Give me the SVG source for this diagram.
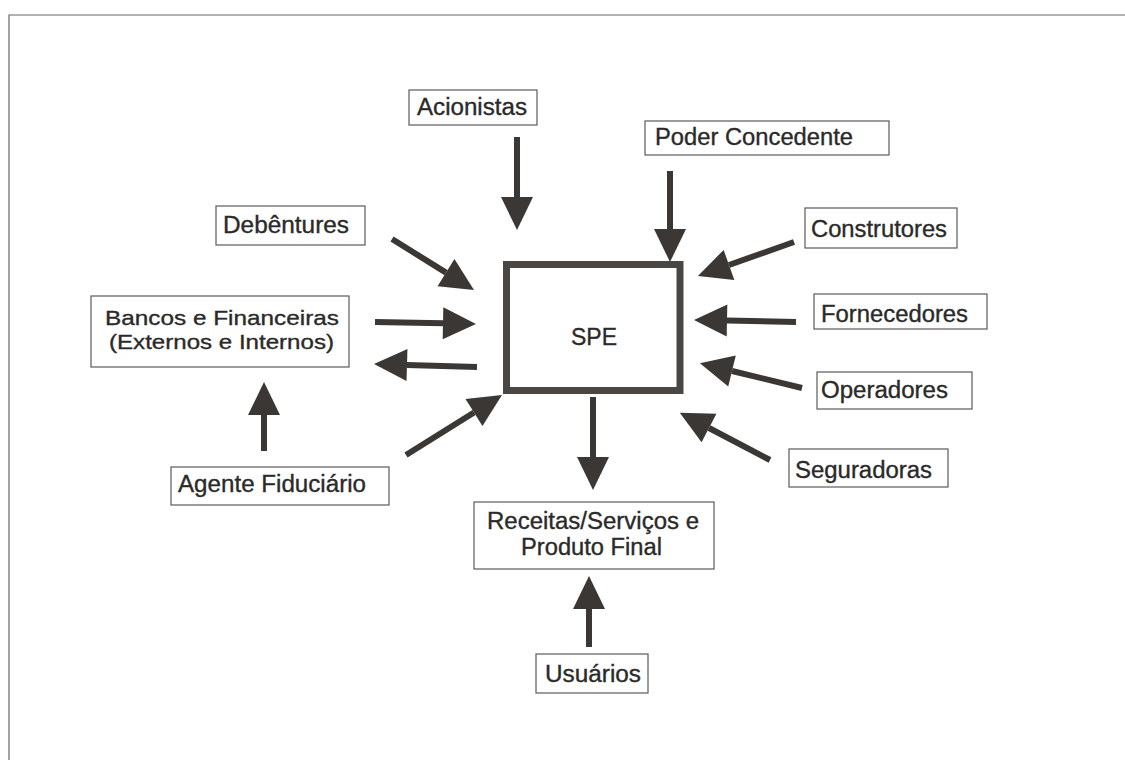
<svg xmlns="http://www.w3.org/2000/svg" width="1125" height="760" viewBox="0 0 1125 760">
<style>
.box{fill:#fff;stroke:#5a5a5a;stroke-width:1.2}
.t{font-family:"Liberation Sans",Arial,sans-serif;font-size:23px;fill:#2b2a29;stroke:#2b2a29;stroke-width:0.35}
.s{font-size:21px}
.c{stroke:#3b3734;stroke-width:6;fill:none;marker-end:url(#ah)}
</style>
<defs>
<marker id="ah" markerUnits="userSpaceOnUse" markerWidth="34" markerHeight="32" refX="0" refY="16" orient="auto" overflow="visible">
<path d="M0,0 L33,16 L0,32 z" fill="#3b3734"/>
</marker>
</defs>
<rect width="1125" height="760" fill="#fff"/>
<path d="M9,760 V15 H1125" fill="none" stroke="#666" stroke-width="1.2"/>

<g id="spe">
<rect x="506.5" y="264.5" width="173.5" height="126" fill="#fff" stroke="#4a4644" stroke-width="7"/>
<text class="t" x="571" y="345" textLength="46" lengthAdjust="spacingAndGlyphs">SPE</text>
</g>
<g id="acionistas">
<rect class="box" x="409" y="90" width="128" height="35"/>
<text class="t" x="417" y="115" textLength="110" lengthAdjust="spacingAndGlyphs">Acionistas</text>
</g>
<g id="poder">
<rect class="box" x="645" y="121" width="244" height="34"/>
<text class="t" x="655" y="145" textLength="198" lengthAdjust="spacingAndGlyphs">Poder Concedente</text>
</g>
<g id="debentures">
<rect class="box" x="216" y="206" width="149" height="39"/>
<text class="t" x="223" y="233" textLength="126" lengthAdjust="spacingAndGlyphs">Debêntures</text>
</g>
<g id="construtores">
<rect class="box" x="805" y="208" width="152" height="40"/>
<text class="t" x="811" y="237" textLength="136" lengthAdjust="spacingAndGlyphs">Construtores</text>
</g>
<g id="bancos">
<rect class="box" x="91" y="296" width="258" height="71"/>
<text class="t s" x="105" y="325" textLength="234" lengthAdjust="spacingAndGlyphs">Bancos e Financeiras</text>
<text class="t s" x="109" y="349" textLength="225" lengthAdjust="spacingAndGlyphs">(Externos e Internos)</text>
</g>
<g id="fornecedores">
<rect class="box" x="814" y="294" width="173" height="35"/>
<text class="t" x="821" y="322" textLength="147" lengthAdjust="spacingAndGlyphs">Fornecedores</text>
</g>
<g id="operadores">
<rect class="box" x="817" y="372" width="155" height="37"/>
<text class="t" x="821" y="398" textLength="127" lengthAdjust="spacingAndGlyphs">Operadores</text>
</g>
<g id="seguradoras">
<rect class="box" x="789" y="449" width="159" height="38"/>
<text class="t" x="795" y="478" textLength="137" lengthAdjust="spacingAndGlyphs">Seguradoras</text>
</g>
<g id="agente">
<rect class="box" x="171" y="467" width="218" height="38"/>
<text class="t" x="178" y="492" textLength="188" lengthAdjust="spacingAndGlyphs">Agente Fiduciário</text>
</g>
<g id="receitas">
<rect class="box" x="474" y="502" width="240" height="67"/>
<text class="t" x="487" y="529" textLength="212" lengthAdjust="spacingAndGlyphs">Receitas/Serviços e</text>
<text class="t" x="521" y="555" textLength="141" lengthAdjust="spacingAndGlyphs">Produto Final</text>
</g>
<g id="usuarios">
<rect class="box" x="536" y="654" width="112" height="39"/>
<text class="t" x="545" y="682" textLength="96" lengthAdjust="spacingAndGlyphs">Usuários</text>
</g>

<g id="connectors">
<line class="c" x1="517" y1="137" x2="517" y2="197"/>
<line class="c" x1="670" y1="171" x2="670" y2="229"/>
<line class="c" x1="392" y1="239" x2="446" y2="272.6"/>
<line class="c" x1="375" y1="322" x2="443" y2="323.3"/>
<line class="c" x1="477" y1="367" x2="407" y2="365"/>
<line class="c" x1="264" y1="451" x2="264" y2="415"/>
<line class="c" x1="406" y1="455" x2="474" y2="412.5"/>
<line class="c" x1="593" y1="397" x2="593" y2="457"/>
<line class="c" x1="589" y1="647" x2="589" y2="609"/>
<line class="c" x1="794" y1="242" x2="729" y2="265"/>
<line class="c" x1="796" y1="322" x2="727" y2="320.6"/>
<line class="c" x1="802" y1="388" x2="732" y2="371"/>
<line class="c" x1="770" y1="460" x2="709" y2="428"/>
</g>
</svg>
